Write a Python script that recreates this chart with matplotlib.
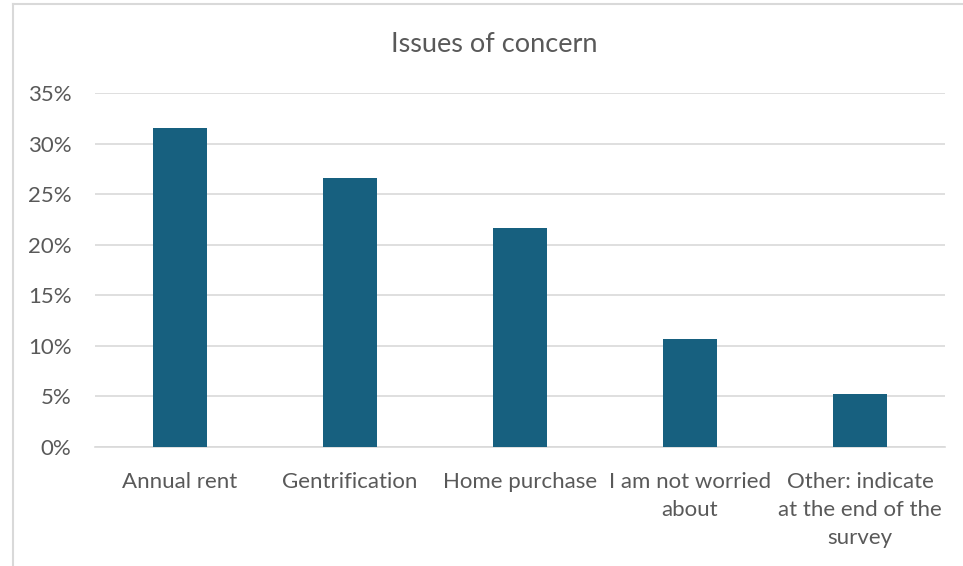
import matplotlib
matplotlib.use("Agg")
import matplotlib.pyplot as plt
from matplotlib.lines import Line2D
from matplotlib.ticker import FuncFormatter

plt.rcParams['font.family'] = ['Lato', 'DejaVu Sans']

categories = ["Annual rent", "Gentrification", "Home purchase",
              "I am not worried\nabout", "Other: indicate\nat the end of the\nsurvey"]
shares = [0.315, 0.266, 0.217, 0.107, 0.052]
yticks = [0, 0.05, 0.10, 0.15, 0.20, 0.25, 0.30, 0.35]

bar_color = "#17607f"
text_color = "#595959"
grid_color = "#d9d9d9"

fig = plt.figure(figsize=(9.63, 5.66), dpi=100)
ax = fig.add_axes([95/963, 1-447/566, 850/963, 354/566])

x = range(len(categories))
ax.bar(x, shares, width=0.32, color=bar_color, zorder=3)
ax.set_xlim(-0.5, len(categories)-0.5)
ax.set_ylim(0, 0.35)
ax.set_yticks(yticks)
ax.yaxis.set_major_formatter(FuncFormatter(lambda v, p: f"{v*100:.0f}%"))
ax.set_xticks(list(x))
ax.set_xticklabels(categories, linespacing=1.5)
ax.tick_params(axis='both', length=0, labelsize=16, colors=text_color)
ax.tick_params(axis='x', pad=18)
ax.tick_params(axis='y', pad=17)
ax.grid(axis='y', color=grid_color, lw=1.2, zorder=0)
for s in ax.spines.values():
    s.set_visible(False)
ax.spines['bottom'].set_visible(True)
ax.spines['bottom'].set_color(grid_color)
ax.spines['bottom'].set_linewidth(1.2)

fig.text(494/963, 1-44/566, "Issues of concern", ha='center', va='center',
         fontsize=19.5, color=text_color)

# outer chart border (left and top edges)
fig.add_artist(Line2D([13/963, 13/963], [0, 1-4/566], color=grid_color, lw=1.5))
fig.add_artist(Line2D([13/963, 1], [1-4/566, 1-4/566], color=grid_color, lw=1.5))

fig.savefig("out.png", dpi=100)
